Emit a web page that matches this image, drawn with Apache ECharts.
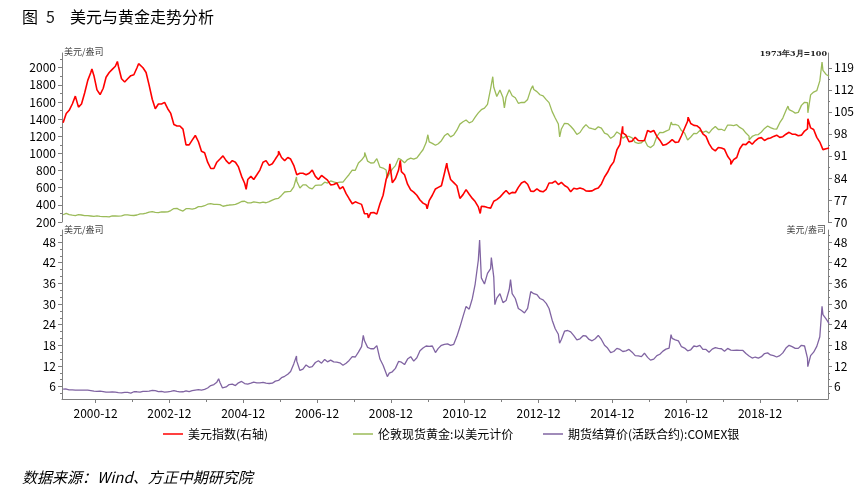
<!DOCTYPE html>
<html>
<head>
<meta charset="utf-8">
<script src="https://cdn.jsdelivr.net/npm/echarts@6/dist/echarts.min.js"></script>
<style>
html,body{margin:0;padding:0;background:#fff;}
#chart{width:863px;height:504px;}
</style>
</head>
<body>
<div id="chart"></div>
<script>
// ---- DATA (monthly, Jan 2000 - Oct 2020) ----
const startYear = 2000;
// 伦敦现货黄金:以美元计价 (USD/oz)
const goldPrice = [
284.6,300.9,286.4,279.7,275.3,285.7,281.6,274.5,273.7,270.0,266.0,272.5,
265.5,261.9,263.0,260.5,272.4,270.2,267.5,272.4,283.4,283.1,276.2,275.9,
281.7,295.5,294.0,302.7,314.5,321.2,313.3,310.3,319.2,316.6,319.2,333.4,
356.9,359.0,340.6,328.2,355.7,356.4,351.0,359.8,378.9,378.9,389.9,407.6,
413.8,404.9,406.7,403.0,383.8,392.4,398.1,400.5,405.3,420.5,439.4,442.1,
424.0,423.4,434.2,428.9,421.9,430.7,424.5,437.9,456.0,469.9,476.7,510.1,
549.9,555.0,557.1,610.6,676.5,596.2,633.7,632.6,598.2,585.8,627.8,629.8,
631.2,664.8,654.9,679.4,666.9,655.5,665.3,665.4,712.7,754.6,806.3,803.2,
889.6,922.3,968.4,909.7,888.7,889.5,939.8,839.0,829.9,806.6,760.9,816.1,
858.7,943.2,924.3,890.2,928.6,945.7,934.2,949.4,996.6,1043.2,1127.0,1134.7,
1118.0,1095.4,1113.3,1148.7,1205.4,1232.9,1192.9,1215.8,1271.0,1342.0,1369.9,1390.6,
1356.4,1372.7,1424.0,1473.8,1510.4,1528.7,1572.8,1755.8,1771.9,1665.2,1739.0,1652.3,
1656.1,1742.6,1673.8,1650.1,1585.5,1596.7,1594.3,1630.3,1744.8,1746.6,1721.6,1684.8,
1671.9,1627.6,1593.1,1487.9,1414.0,1343.4,1285.5,1351.7,1348.6,1316.6,1275.9,1221.5,
1244.3,1299.6,1336.1,1298.5,1288.7,1279.1,1310.6,1295.1,1236.6,1222.5,1176.3,1200.4,
1250.8,1227.1,1178.6,1198.9,1198.6,1181.5,1128.3,1117.9,1124.8,1159.3,1086.4,1068.3,
1097.9,1199.5,1245.1,1242.3,1260.9,1276.4,1336.7,1340.2,1326.0,1266.6,1238.4,1157.4,
1192.1,1234.2,1231.1,1266.9,1246.0,1260.3,1236.8,1283.0,1314.1,1279.5,1281.9,1264.5,
1331.3,1330.7,1324.7,1334.8,1303.5,1282.0,1237.7,1201.7,1198.4,1215.4,1220.7,1250.4,
1291.8,1320.1,1300.9,1285.9,1283.7,1359.0,1412.9,1500.4,1510.6,1494.8,1470.0,1479.1,
1560.7,1597.1,1591.9,1683.2,1715.9,1732.2,1846.5,1968.6,1921.9,1900.3
];
const goldExtremes = [
['2001-04-02',256],['2006-05-12',725],['2008-03-17',1011],['2008-10-24',712],
['2009-12-02',1218],['2011-09-05',1895],['2011-12-29',1531],['2012-10-04',1790],
['2013-06-28',1192],['2015-12-17',1050],['2016-07-06',1366],['2018-08-16',1160],
['2019-09-04',1552],['2020-03-19',1474],['2020-08-06',2067]
];
// 美元指数 (右轴, 1973年3月=100)
const dollarIndex = [
101.5,104.5,105.5,107.5,110.0,106.5,107.5,111.0,115.0,117.5,116.5,112.0,
110.5,112.5,116.0,117.5,118.5,119.5,119.5,115.5,114.5,115.5,116.5,116.8,
119.0,119.8,119.0,117.5,113.5,109.0,106.0,107.5,107.5,108.0,106.0,104.5,
101.0,100.5,100.5,99.5,94.5,94.5,96.0,97.5,95.5,92.5,92.0,89.0,
87.0,87.0,89.0,90.0,91.0,89.5,88.5,89.5,89.0,87.5,84.5,82.3,
83.5,84.5,83.5,85.0,86.5,89.0,89.5,88.0,88.5,90.0,91.5,90.5,
89.5,90.5,90.0,88.0,85.0,85.5,85.5,85.0,85.5,86.5,84.5,83.5,
84.8,84.0,83.3,81.8,81.9,82.4,80.5,81.2,79.0,77.4,75.8,76.4,
76.0,75.6,72.6,72.6,72.9,73.0,72.5,75.8,78.5,83.5,86.5,82.5,
83.8,86.5,86.0,85.0,82.0,80.2,79.5,78.5,77.0,76.0,75.5,76.8,
78.5,80.5,81.0,81.5,85.5,87.0,83.5,82.5,81.5,77.5,78.7,80.3,
78.8,77.5,76.5,74.8,75.0,74.9,74.6,74.4,76.6,77.1,77.9,79.0,
80.0,78.9,79.4,79.3,81.0,82.4,82.9,82.0,79.8,79.7,80.5,79.8,
79.6,80.4,82.4,82.4,83.0,81.9,82.6,81.6,81.0,79.6,80.7,80.5,
80.8,80.5,79.9,79.8,79.9,80.5,80.8,82.1,84.3,85.8,87.8,89.1,
92.9,94.7,98.3,97.6,95.5,95.7,96.9,95.9,95.8,95.9,99.1,98.6,
99.1,97.2,96.0,94.4,94.6,95.3,96.2,95.3,95.4,97.4,99.8,102.0,
101.3,100.7,100.6,99.8,98.0,97.2,94.9,93.3,92.6,93.7,93.5,93.1,
90.9,89.5,89.8,90.5,93.3,94.7,94.6,95.6,94.7,95.8,96.6,96.8,
95.9,96.5,96.7,97.2,97.6,96.9,97.1,97.9,98.5,97.9,97.9,97.4,
97.6,98.9,99.6,99.9,99.4,96.9,95.4,93.0,93.3,93.5
];
const dollarExtremes = [
['2000-10-26',118.6],['2001-07-05',121.0],['2002-01-31',120.3],['2004-12-30',80.4],
['2005-11-15',92.5],['2008-04-22',71.3],['2008-11-21',88.5],['2009-03-04',89.6],
['2009-11-25',74.2],['2010-06-07',88.7],['2011-05-04',72.7],['2015-03-13',100.4],
['2016-12-20',103.3],['2018-02-15',88.3],['2020-03-19',102.8]
];
// 期货结算价(活跃合约):COMEX银 (USD/oz)
const silverPrice = [
5.25,5.30,5.05,5.05,5.00,5.00,5.00,4.95,4.95,4.85,4.70,4.60,
4.70,4.55,4.40,4.37,4.43,4.37,4.25,4.20,4.35,4.30,4.13,4.50,
4.50,4.40,4.60,4.60,4.70,4.90,4.85,4.55,4.60,4.40,4.50,4.60,
4.80,4.60,4.45,4.50,4.75,4.55,4.80,5.00,5.15,5.00,5.20,5.60,
6.30,6.60,7.30,7.20,5.90,5.90,6.60,6.70,6.30,7.10,7.50,6.90,
6.70,7.00,7.30,7.10,7.10,7.20,7.00,6.90,7.00,7.60,7.80,8.60,
9.00,9.60,10.40,12.60,13.40,10.70,11.10,12.30,11.60,11.80,13.00,13.50,
12.80,13.90,13.20,13.70,13.20,13.10,12.90,12.20,12.80,13.60,14.70,14.60,
16.00,17.60,19.30,17.40,17.00,17.00,17.90,14.00,12.20,9.90,9.90,10.30,
11.30,13.30,13.10,12.40,14.00,14.70,13.40,14.40,16.40,17.20,17.80,17.70,
17.80,15.90,17.10,18.00,18.30,18.40,18.00,18.30,20.60,23.30,26.40,29.30,
28.50,31.60,35.80,42.70,37.60,35.80,38.90,40.30,37.80,31.70,33.00,30.40,
31.00,34.20,33.00,31.60,28.70,28.10,27.40,28.70,33.60,33.00,32.70,31.60,
31.20,30.20,28.70,25.30,22.80,21.20,19.70,22.10,22.30,21.90,20.80,19.60,
19.90,20.80,20.70,19.70,19.30,19.90,20.90,19.70,18.00,17.20,15.90,16.20,
17.10,16.80,16.20,16.40,16.80,16.00,15.00,14.90,14.70,15.70,14.50,14.00,
14.00,15.00,15.40,16.30,16.90,17.20,20.00,19.60,19.30,17.60,17.20,16.40,
16.70,17.80,17.60,18.00,16.80,16.80,16.00,16.90,17.30,17.10,17.00,16.30,
17.10,16.60,16.50,16.60,16.50,16.50,15.60,14.90,14.30,14.60,14.30,14.70,
15.60,15.80,15.20,15.00,14.60,15.00,15.80,17.20,18.00,17.60,17.10,17.10,
18.00,17.80,14.30,15.00,16.00,17.70,20.50,26.90,25.70,24.30
];
const silverExtremes = [
['2001-11-20',4.07],['2004-04-02',8.3],['2004-05-10',5.6],['2006-05-12',14.9],
['2008-03-03',20.9],['2008-10-27',8.9],['2011-04-28',48.6],['2011-08-22',43.5],
['2011-09-26',29.8],['2012-02-28',37.1],['2013-06-27',18.6],['2015-12-14',13.7],
['2016-07-04',21.1],['2020-03-18',11.8],['2020-08-06',29.3]
];
// tick labels
const goldTicks = [200,400,600,800,1000,1200,1400,1600,1800,2000];
const dollarTicks = [70,77,84,91,98,105,112,119];
const silverTicks = [6,12,18,24,30,36,42,48];
const xLabelYears = [2000,2002,2004,2006,2008,2010,2012,2014,2016,2018];
const xMinorYears = [2001,2003,2005,2007,2009,2011,2013,2015,2017,2019];

// ---- build ----
function ts(s){const p=s.split('-');return Date.UTC(+p[0],+p[1]-1,+p[2]);}
function build(monthly, extremes){
  const out = monthly.map((v,i)=>[Date.UTC(startYear+Math.floor(i/12), i%12, 15), v]);
  extremes.forEach(e=>out.push([ts(e[0]), e[1]]));
  out.sort((a,b)=>a[0]-b[0]);
  return out;
}
const xMin = Date.UTC(2000,0,4), xMax = Date.UTC(2020,9,4);
const xLabelVals = xLabelYears.map(y=>Date.UTC(y,11,1));
const xMinorVals = xMinorYears.map(y=>Date.UTC(y,11,1));
function mid(arr){const r=[];for(let i=0;i<arr.length-1;i++)r.push((arr[i]+arr[i+1])/2);return r;}

const FONT = '"Noto Sans CJK SC","Noto Sans",sans-serif';
const AX = '#7f7f7f';
const plain = v => String(v);

function yAx(grid, pos, min, max, ticks){
  return {type:'value', gridIndex:grid, position:pos, min:min, max:max,
    axisLine:{show:true, onZero:false, lineStyle:{color:AX, width:1}},
    axisTick:{show:true, length:4, customValues:ticks, lineStyle:{color:AX}},
    axisLabel:{customValues:ticks, margin:6, color:'#000', fontSize:12, fontFamily:FONT, formatter:plain},
    splitLine:{show:false}};
}
function yMinor(grid, pos, min, max, ticks){
  return {type:'value', gridIndex:grid, position:pos, offset:0, min:min, max:max,
    axisLine:{show:false},
    axisTick:{show:true, length:2, customValues:ticks, lineStyle:{color:AX}},
    axisLabel:{show:false}, splitLine:{show:false}};
}
const silverMinor = [];
for (let v=4; v<=50; v+=2) if (v%6!==0) silverMinor.push(v);

const chart = echarts.init(document.getElementById('chart'), null, {renderer:'canvas'});
const option = {
  animation:false,
  backgroundColor:'#fff',
  textStyle:{fontFamily:FONT},
  grid:[
    {left:62, right:35, top:53, height:169},
    {left:62, right:35, top:230, height:169}
  ],
  xAxis:[
    {type:'value', gridIndex:0, min:xMin, max:xMax, show:false},
    {type:'value', gridIndex:1, position:'bottom', min:xMin, max:xMax,
      axisLine:{show:true, onZero:false, lineStyle:{color:AX}},
      axisTick:{show:true, length:4, customValues:xLabelVals, lineStyle:{color:AX}},
      axisLabel:{customValues:xLabelVals, margin:8, color:'#000', fontSize:12, fontFamily:FONT,
        formatter:function(v){const d=new Date(v);const m=d.getUTCMonth()+1;return d.getUTCFullYear()+'-'+(m<10?'0'+m:m);}},
      splitLine:{show:false}},
    {type:'value', gridIndex:1, position:'bottom', offset:0, min:xMin, max:xMax,
      axisLine:{show:false, onZero:false},
      axisTick:{show:true, length:3, customValues:xMinorVals, lineStyle:{color:AX}},
      axisLabel:{show:false}, splitLine:{show:false}}
  ],
  yAxis:[
    yAx(0,'left',200,2172,goldTicks),
    yAx(0,'right',70,123.7,dollarTicks),
    yAx(1,'left',2.4,51.5,silverTicks),
    yAx(1,'right',2.4,51.5,silverTicks),
    yMinor(0,'left',200,2172,mid(goldTicks).concat([2100])),
    yMinor(0,'right',70,123.7,mid(dollarTicks)),
    yMinor(1,'left',2.4,51.5,silverMinor),
    yMinor(1,'right',2.4,51.5,silverMinor)
  ],
  legend:[
    {left:163, top:428, padding:0, icon:'rect', itemWidth:20, itemHeight:1.5,
      textStyle:{fontSize:12, color:'#000', fontFamily:FONT}, data:['美元指数(右轴)']},
    {left:353, top:428, padding:0, icon:'rect', itemWidth:20, itemHeight:1.5,
      textStyle:{fontSize:12, color:'#000', fontFamily:FONT}, data:['伦敦现货黄金:以美元计价']},
    {left:543, top:428, padding:0, icon:'rect', itemWidth:20, itemHeight:1.5,
      textStyle:{fontSize:12, color:'#000', fontFamily:FONT}, data:['期货结算价(活跃合约):COMEX银']}
  ],
  series:[
    {name:'伦敦现货黄金:以美元计价', type:'line', xAxisIndex:0, yAxisIndex:0, showSymbol:false,
      data:build(goldPrice, goldExtremes), lineStyle:{color:'#9BBB59', width:1.3}, itemStyle:{color:'#9BBB59'}, z:2},
    {name:'美元指数(右轴)', type:'line', xAxisIndex:0, yAxisIndex:1, showSymbol:false,
      data:build(dollarIndex, dollarExtremes), lineStyle:{color:'#FF0000', width:1.6}, itemStyle:{color:'#FF0000'}, z:3},
    {name:'期货结算价(活跃合约):COMEX银', type:'line', xAxisIndex:1, yAxisIndex:2, showSymbol:false,
      data:build(silverPrice, silverExtremes), lineStyle:{color:'#8064A2', width:1.3}, itemStyle:{color:'#8064A2'}, z:2}
  ],
  graphic:[
    {type:'text', x:22, y:17, style:{text:'图', fill:'#000', font:'16px '+FONT, verticalAlign:'middle'}},
    {type:'text', x:46, y:17, style:{text:'5', fill:'#1a1a1a', font:'16px '+FONT, verticalAlign:'middle'}},
    {type:'text', x:70, y:17, style:{text:'美元与黄金走势分析', fill:'#000', font:'16px '+FONT, verticalAlign:'middle'}},
    {type:'text', x:64, y:52, style:{text:'美元/盎司', fill:'#404040', font:'9px '+FONT, verticalAlign:'middle'}},
    {type:'text', x:827, y:54, style:{text:'1973年3月=100', fill:'#222', font:'bold 8px "DejaVu Serif","Liberation Serif",serif', align:'right', verticalAlign:'middle'}},
    {type:'text', x:64, y:230, style:{text:'美元/盎司', fill:'#404040', font:'9px '+FONT, verticalAlign:'middle'}},
    {type:'text', x:826, y:230, style:{text:'美元/盎司', fill:'#404040', font:'9px '+FONT, align:'right', verticalAlign:'middle'}},
    {type:'text', x:22, y:477, style:{text:'数据来源：Wind、方正中期研究院', fill:'#000', font:'italic 15px '+FONT, verticalAlign:'middle'}}
  ]
};
chart.setOption(option);
</script>
</body>
</html>
